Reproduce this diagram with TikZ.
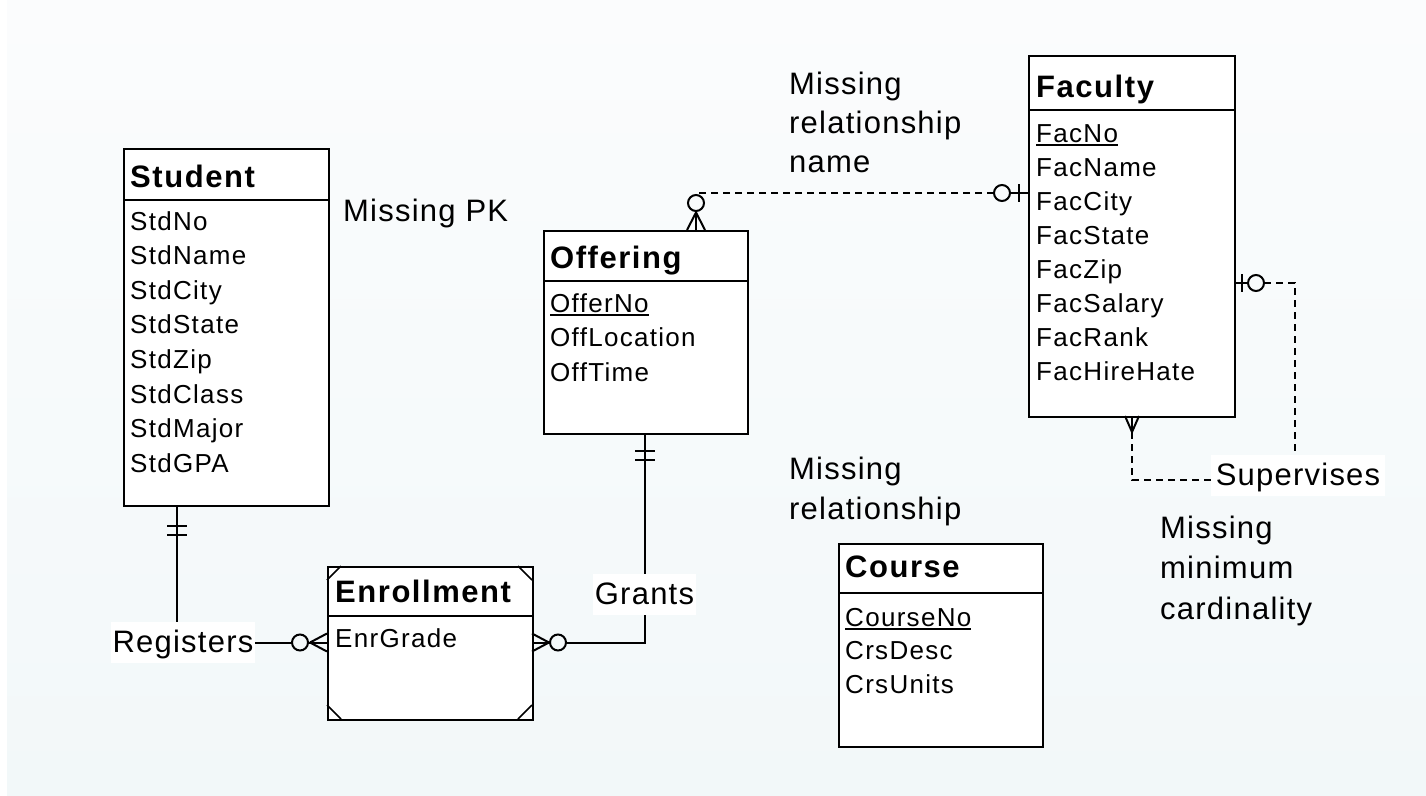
\documentclass[tikz,border=0pt]{standalone}
\usepackage{fontspec}
\setmainfont{Liberation Sans}
\newfontfamily\attrfont[LetterSpace=5]{Liberation Sans}
\newfontfamily\headfont[LetterSpace=5]{Liberation Sans}
\newfontfamily\notefont[LetterSpace=4]{Liberation Sans}
% primary-key attribute: text with a rule underneath
\newcommand\pkey[1]{\setbox0\hbox{#1}\rlap{\rule[-3.5pt]{\wd0}{1.8pt}}\box0}
\definecolor{bgtop}{HTML}{FBFCFD}
\definecolor{bgmid}{HTML}{ECF4F7}
\definecolor{bgbot}{HTML}{F2F8F9}
\tikzset{
  entity/.style={draw=black, line width=2pt, fill=white, rectangle, inner sep=0pt, anchor=north west},
  head/.style={anchor=base west, inner sep=0pt, font=\headfont\bfseries\fontsize{31}{31}\selectfont},
  attr/.style={anchor=base west, inner sep=0pt, font=\attrfont\fontsize{26}{26}\selectfont},
  note/.style={anchor=base west, inner sep=0pt, font=\notefont\fontsize{31}{31}\selectfont},
  rlabel/.style={fill=white, inner sep=0pt, minimum height=41pt, text height=25pt, text depth=5pt,
                 font=\notefont\fontsize{31}{31}\selectfont},
  rel/.style={line width=2pt},
  opt/.style={line width=2pt, dash pattern=on 7pt off 5pt},
  corner/.style={line width=1.5pt}
}
\begin{document}
\begin{tikzpicture}[x=1pt,y=-1pt]
\useasboundingbox (0,0) rectangle (1426,795);
% background
\fill[white] (0,0) rectangle (7,795);
\shade[top color=bgtop, middle color=bgmid, bottom color=bgbot] (7,0) rectangle (1426,795);

% ---------- entities ----------
\node[entity, minimum width=205pt, minimum height=357pt] (student) at (123,148) {};
\node[entity, minimum width=204pt, minimum height=203pt] (offering) at (543,230) {};
\node[entity, minimum width=206pt, minimum height=361pt] (faculty) at (1028,55) {};
\node[entity, minimum width=205pt, minimum height=153pt] (enrollment) at (327,566) {};
\node[entity, minimum width=204pt, minimum height=203pt] (course) at (838,543) {};

% header separators
\draw[rel] (123,200) -- (328,200);
\draw[rel] (543,281) -- (747,281);
\draw[rel] (1028,110) -- (1234,110);
\draw[rel] (327,616) -- (532,616);
\draw[rel] (838,593) -- (1042,593);

% cut corners of the weak entity
\draw[corner] (327,580) -- (341,566);
\draw[corner] (518,566) -- (532,580);
\draw[corner] (327,705) -- (341,719);
\draw[corner] (518,719) -- (532,705);

% titles
\node[head] (student-t) at (130,187) {Student};
\node[head] (offering-t) at (550,268) {Offering};
\node[head] (faculty-t) at (1036,97) {Faculty};
\node[head] (enrollment-t) at (335,602) {Enrollment};
\node[head] (course-t) at (845,577) {Course};

% attributes
\foreach \t [count=\i from 0] in {StdNo,StdName,StdCity,StdState,StdZip,StdClass,StdMajor,StdGPA}
  \node[attr] (student-a\i) at (130,230+34.6*\i) {\t};
\node[attr] (offering-a0) at (550,312) {\pkey{OfferNo}};
\foreach \t [count=\i from 1] in {OffLocation,OffTime}
  \node[attr] (offering-a\i) at (550,312+34.5*\i) {\t};
\node[attr] (faculty-a0) at (1036,142) {\pkey{FacNo}};
\foreach \t [count=\i from 1] in {FacName,FacCity,FacState,FacZip,FacSalary,FacRank,FacHireHate}
  \node[attr] (faculty-a\i) at (1036,142+34*\i) {\t};
\node[attr] (enrollment-a0) at (335,647) {EnrGrade};
\node[attr] (course-a0) at (845,626) {\pkey{CourseNo}};
\foreach \t [count=\i from 1] in {CrsDesc,CrsUnits}
  \node[attr] (course-a\i) at (845,626+33.5*\i) {\t};

% ---------- relationship labels ----------
\node[rlabel, minimum width=144pt] (registers) at (183,642.5) {Registers};
\node[rlabel, minimum width=103pt] (grants) at (644.5,594.5) {Grants};
\node[rlabel, minimum width=174pt] (supervises) at (1298,475) {Supervises};

% ---------- Registers: Student (1) -- Enrollment (0..N) ----------
\coordinate (xreg) at (177,0);
\draw[rel] (student.south -| xreg) -- (registers.north -| xreg);
\draw[rel] (167,526) -- (187,526) (167,535) -- (187,535);
\draw[rel] (registers.east) -- (292,642.5);
\draw[rel] (300,642.5) circle[radius=8pt];
\draw[rel] (308,642.5) -- (enrollment.west |- registers.east);
\draw[rel] (310,642.5) -- (327,633.5) (310,642.5) -- (327,651.5);

% ---------- Grants: Offering (1) -- Enrollment (0..N) ----------
\coordinate (ygr) at (0,642.5);
\coordinate (xgr) at (645,0);
\draw[rel] (enrollment.east |- ygr) -- (550,642.5);
\draw[rel] (532,633.5) -- (549,642.5) -- (532,651.5);
\draw[rel] (558,642.5) circle[radius=8pt];
\draw[rel] (566,642.5) -- (xgr |- ygr) -- (grants.south -| xgr);
\draw[rel] (grants.north -| xgr) -- (offering.south -| xgr);
\draw[rel] (635,451) -- (655,451) (635,460) -- (655,460);

% ---------- Faculty (0..1) -- Offering (0..N), name missing ----------
\coordinate (yfo) at (0,193);
\coordinate (xfo) at (696,0);
\draw[opt] (994,193) -- (xfo |- yfo) -- (696,195);
\draw[rel] (1002,193) circle[radius=8pt];
\draw[rel] (1010,193) -- (faculty.west |- yfo);
\draw[rel] (1019,184) -- (1019,202);
\draw[rel] (696,203) circle[radius=8pt];
\draw[rel] (696,211) -- (offering.north -| xfo);
\draw[rel] (687,230) -- (696,212.5) -- (705,230);

% ---------- Supervises: Faculty self relationship ----------
\coordinate (ysu) at (0,283);
\coordinate (xsr) at (1295,0);
\coordinate (xsl) at (1132,0);
\coordinate (ysb) at (0,480);
\draw[rel] (faculty.east |- ysu) -- (1248,283);
\draw[rel] (1242,274) -- (1242,292);
\draw[rel] (1256,283) circle[radius=8pt];
\draw[opt] (1264,283) -- (xsr |- ysu) -- (supervises.north -| xsr);
\draw[opt] (supervises.west |- ysb) -- (xsl |- ysb) -- (1132,432);
\draw[rel] (faculty.south -| xsl) -- (1132,432);
\draw[rel] (1125,416) -- (1132,432) -- (1139,416);

% ---------- remarks ----------
\node[note] (n-pk) at (343,221) {Missing PK};
\node[note] (n-name1) at (789,94.5) {Missing};
\node[note] (n-name2) at (789,133.5) {relationship};
\node[note] (n-name3) at (789,172.5) {name};
\node[note] (n-rel1) at (789,479.5) {Missing};
\node[note] (n-rel2) at (789,519) {relationship};
\node[note] (n-min1) at (1160,538) {Missing};
\node[note] (n-min2) at (1160,578) {minimum};
\node[note] (n-min3) at (1160,619) {cardinality};
\end{tikzpicture}
\end{document}
